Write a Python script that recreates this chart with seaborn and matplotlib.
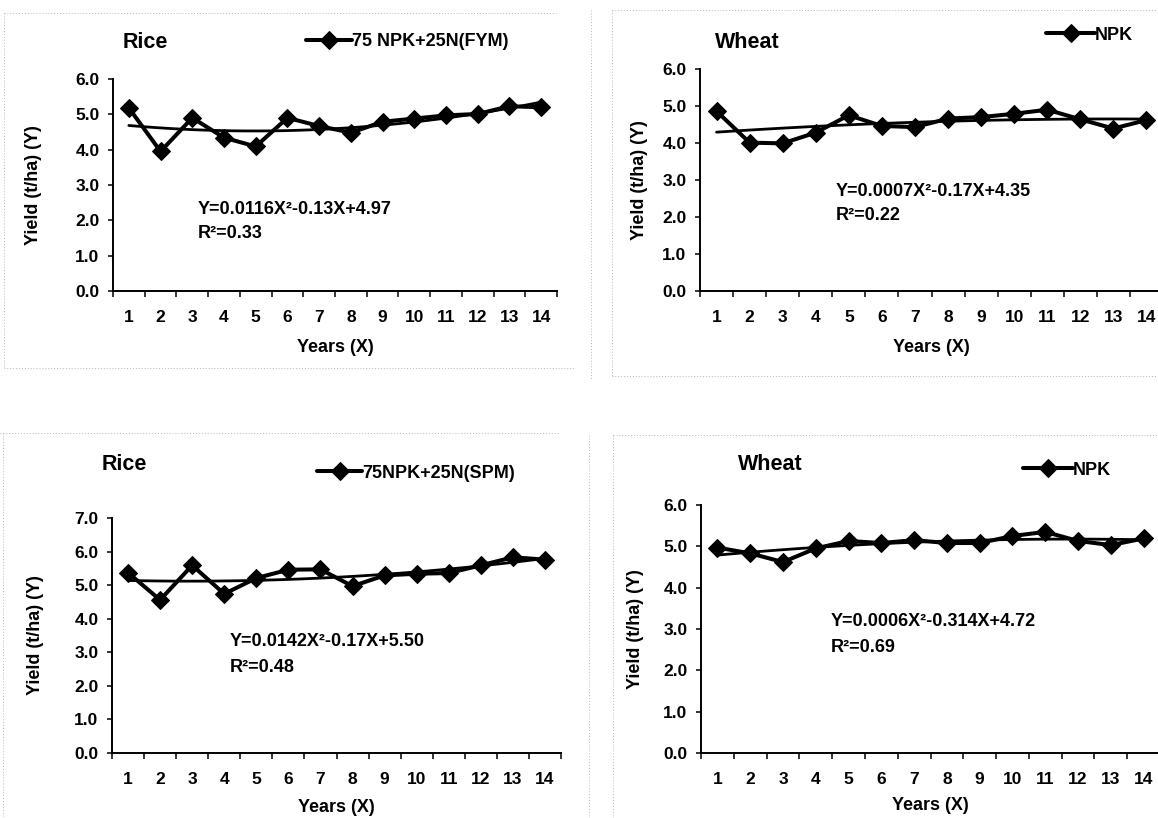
import numpy as np
import pandas as pd
import seaborn as sns
import matplotlib.pyplot as plt
from matplotlib.lines import Line2D

# values (t/ha)
years = list(range(1, 15))
rice_fym = [5.18, 3.95, 4.90, 4.34, 4.09, 4.90, 4.67, 4.48, 4.79, 4.88, 4.97, 5.01, 5.23, 5.20]
wheat_npk_top = [4.86, 4.01, 3.99, 4.28, 4.75, 4.46, 4.43, 4.66, 4.70, 4.79, 4.90, 4.64, 4.39, 4.62]
rice_spm = [5.37, 4.56, 5.59, 4.74, 5.21, 5.46, 5.47, 4.97, 5.29, 5.34, 5.36, 5.59, 5.83, 5.76]
wheat_npk_bot = [4.97, 4.83, 4.62, 4.95, 5.13, 5.08, 5.15, 5.08, 5.08, 5.25, 5.35, 5.13, 5.03, 5.19]

crops = ['Rice', 'Wheat', 'Rice', 'Wheat']
treatments = ['75 NPK+25N(FYM)', 'NPK', '75NPK+25N(SPM)', 'NPK']
equations = ['Y=0.0116X\u00b2-0.13X+4.97', 'Y=0.0007X\u00b2-0.17X+4.35',
             'Y=0.0142X\u00b2-0.17X+5.50', 'Y=0.0006X\u00b2-0.314X+4.72']
r_squared = ['R\u00b2=0.33', 'R\u00b2=0.22', 'R\u00b2=0.48', 'R\u00b2=0.69']
y_max = [6, 6, 7, 6]
series = [rice_fym, wheat_npk_top, rice_spm, wheat_npk_bot]

sns.set_theme(style='white')
plt.rcParams['font.family'] = ['Liberation Sans', 'DejaVu Sans']
plt.rcParams['font.weight'] = 'bold'
plt.rcParams['axes.labelweight'] = 'bold'
for key in ['text.color', 'axes.labelcolor', 'xtick.color', 'ytick.color', 'axes.edgecolor']:
    plt.rcParams[key] = 'black'

W, H = 1158, 818
fig = plt.figure(figsize=(W / 100, H / 100), dpi=100)
fig.patch.set_facecolor('white')

def fx(x):
    return x / W

def fy(y):
    return 1 - y / H

# layout in pixels: axes box, title, legend, equation, labels
layout = [
    dict(box=(113, 557, 79, 291), title=(123, 42), leg=(306, 42, 352), eq=(198, 209, 234), ylab=33),
    dict(box=(700, 1163, 69, 291), title=(715, 43), leg=(1046, 35, 1095), eq=(836, 191, 216), ylab=639),
    dict(box=(112, 561, 518, 753), title=(102, 465), leg=(317, 473, 362), eq=(230, 642, 668), ylab=36),
    dict(box=(701, 1160, 505, 753), title=(738, 465), leg=(1023, 470, 1073), eq=(831, 622, 648), ylab=635),
]
xlab_y = [348, 348, 807, 805]

fs = 13
for i, lay in enumerate(layout):
    left, right, top, bottom = lay['box']
    ax = fig.add_axes([fx(left), fy(bottom), (right - left) / W, (bottom - top) / H])
    df = pd.DataFrame({'year': years, 'yield': series[i]})

    sns.regplot(data=df, x='year', y='yield', order=2, ci=None, scatter=False, ax=ax,
                line_kws=dict(color='black', lw=2.0))
    sns.lineplot(data=df, x='year', y='yield', ax=ax, color='black', lw=2.9,
                 marker='D', markersize=9, markeredgecolor='black', label=treatments[i])

    ax.set_xlim(0.5, 14.5)
    ax.set_ylim(0, y_max[i])
    ax.set_xticks(years)
    ax.set_xticks(np.arange(0.5, 15, 1), minor=True)
    ax.set_yticks(np.arange(0, y_max[i] + 0.5, 1))
    ax.set_yticklabels(['%.1f' % v for v in np.arange(0, y_max[i] + 0.5, 1)])
    ax.tick_params(axis='x', which='major', length=0, pad=14, labelsize=12.5)
    ax.tick_params(axis='x', which='minor', length=4.5, width=1.1, direction='out', bottom=True)
    ax.tick_params(axis='y', length=3.8, width=1.1, direction='out', pad=6, labelsize=12.5, left=True)
    for t in ax.get_xticklabels() + ax.get_yticklabels():
        t.set_fontweight('bold')
    sns.despine(ax=ax)
    for s in ['left', 'bottom']:
        ax.spines[s].set_linewidth(1.4)
        ax.spines[s].set_color('black')

    ax.set_xlabel('Years (X)', fontsize=fs, fontweight='bold')
    ax.set_ylabel('Yield (t/ha) (Y)', fontsize=fs, fontweight='bold')
    ax.xaxis.label.set_va('center')
    ax.yaxis.label.set_va('center')
    ax.xaxis.set_label_coords(0.5, (bottom - xlab_y[i]) / (bottom - top))
    ax.yaxis.set_label_coords((lay['ylab'] - left) / (right - left), 0.5)

    lx, ly, tx = lay['leg']
    leg = ax.legend(loc='center left', bbox_to_anchor=(fx(lx), fy(ly)), bbox_transform=fig.transFigure,
                    frameon=False, borderpad=0, borderaxespad=0, handletextpad=0,
                    handlelength=(tx - lx) / (fs * 100 / 72), prop=dict(size=fs, weight='bold'))

    fig.text(fx(lay['title'][0]), fy(lay['title'][1]), crops[i], fontsize=15.5,
             fontweight='bold', ha='left', va='center')
    ex, ey, ry = lay['eq']
    fig.text(fx(ex), fy(ey), equations[i], fontsize=fs, fontweight='bold', ha='left', va='center')
    fig.text(fx(ex), fy(ry), r_squared[i], fontsize=fs, fontweight='bold', ha='left', va='center')

# faint dotted frames left over from the scanned page
frame_lines = [
    ((4, 556), (13, 13)), ((4, 575), (368, 368)), ((4, 4), (13, 368)),
    ((612, 1158), (10, 10)), ((612, 1158), (376, 376)), ((612, 612), (10, 376)), ((591, 591), (10, 380)),
    ((0, 560), (433, 433)), ((3, 3), (433, 818)),
    ((613, 1158), (435, 435)), ((613, 613), (435, 818)), ((589, 589), (435, 818)),
]
for xs, ys in frame_lines:
    fig.add_artist(Line2D([fx(xs[0]), fx(xs[1])], [fy(ys[0]), fy(ys[1])], transform=fig.transFigure,
                          color='#b5b5b5', lw=0.7, ls=(0, (1, 2))))

fig.savefig('out.png', dpi=100)
